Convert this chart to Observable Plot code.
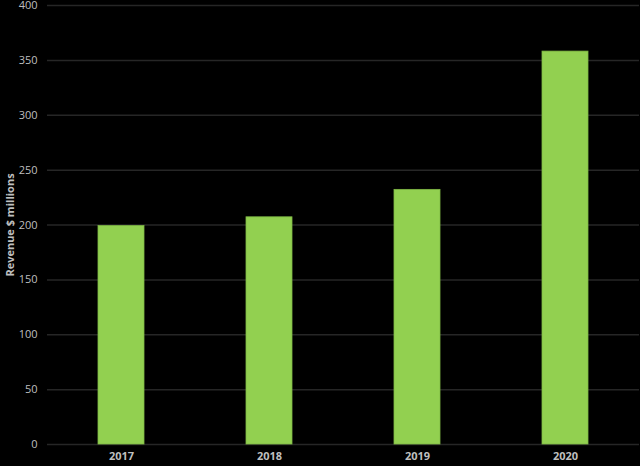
<!DOCTYPE html>
<html><head><meta charset="utf-8">
<script src="https://cdn.jsdelivr.net/npm/d3@7"></script>
<script src="https://cdn.jsdelivr.net/npm/@observablehq/plot@0.6"></script>
<style>
html,body{margin:0;padding:0;background:#000;}
</style>
</head><body>
<div id="chart"></div>
<script>
const years = ["2017", "2018", "2019", "2020"];
const revenue = [199, 207, 232, 358];
const yTicks = [0, 50, 100, 150, 200, 250, 300, 350, 400];

const data = years.map((y, i) => ({year: y, value: revenue[i]}));

const chart = Plot.plot({
  width: 640,
  height: 466,
  marginTop: 5,
  marginBottom: 22,
  marginLeft: 47,
  marginRight: 1,
  style: {background: "#000", color: "#bfbfbf", fontFamily: "'Open Sans', sans-serif", fontSize: "11px"},
  x: {domain: years, paddingInner: 0.69, paddingOuter: 0.345, label: null, tickSize: 0},
  y: {domain: [0, 400], ticks: yTicks, label: null, tickSize: 0},
  marks: [
    Plot.gridY(yTicks, {stroke: "#262626", strokeOpacity: 1, strokeWidth: 1.5}),
    Plot.barY(data, {x: "year", y: "value", fill: "#92D050", stroke: "#7fb844", strokeWidth: 0.8}),
    Plot.axisY({ticks: yTicks, tickSize: 0, tickPadding: 10, label: null, fill: "#bfbfbf"}),
    Plot.axisX({tickSize: 0, tickPadding: 8, label: null, fill: "#bfbfbf", fontWeight: "bold"}),
    Plot.text(["Revenue $ millions"], {frameAnchor: "left", textAnchor: "middle", dx: -37, rotate: -90, fill: "#bfbfbf", fontWeight: "bold", fontSize: 11})
  ]
});
document.getElementById("chart").appendChild(chart);
</script>
</body></html>
